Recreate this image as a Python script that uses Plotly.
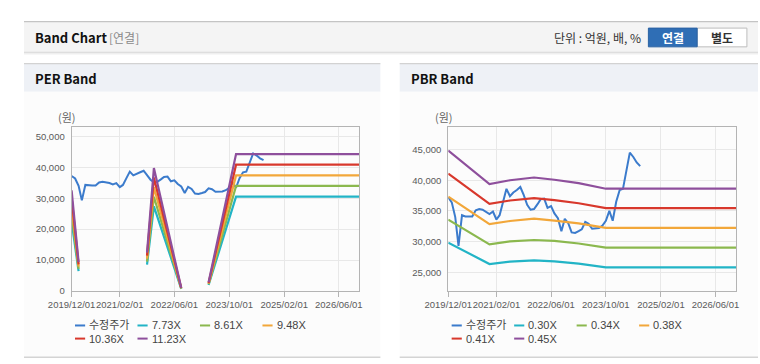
import plotly.graph_objects as go
import pandas as pd

W, H = 760, 364

# ---------------- data ----------------
stock_name = "수정주가"
stock_dates = pd.date_range("2019-12-01", "2024-08-01", freq="MS").strftime("%Y-%m-%d").tolist()
stock_price = [37200, 36400, 34000, 29300, 34300, 34100, 34100, 34100, 35100, 35300,
               35200, 34900, 34500, 34900, 33600, 34300, 36500, 38600, 37400, 38000,
               38400, 38900, 37600, 36000, 35200, 35300, 36100, 36900, 37000, 35500,
               35800, 34600, 33800, 31700, 33700, 33000, 31500, 31400, 31700, 32000,
               33200, 32900, 32100, 32100, 32200, 32600, 33400, 35000, 33400, 36500,
               38400, 38600, 41500, 44500, 43800, 42900, 42300]

per_labels = ["7.73X", "8.61X", "9.48X", "10.36X", "11.23X"]
per_dates = ["2019-12-01", "2020-01-01", "2020-02-01", "2020-03-01", "2021-10-01",
             "2021-12-01", "2022-08-01", "2022-09-01", "2023-04-01", "2023-12-01", "2026-12-01"]
per_773 = [22420, 14690, 6420, None, 8540, 27360, 700, None, 1930, 30500, 30500]
per_861 = [24970, 16360, 7150, None, 9510, 30480, 780, None, 2150, 33970, 33970]
per_948 = [27490, 18010, 7870, None, 10480, 33560, 850, None, 2370, 37400, 37400]
per_1036 = [30040, 19680, 8600, None, 11450, 36670, 930, None, 2590, 40870, 40870]
per_1123 = [32570, 21340, 9320, None, 12410, 39750, 1010, None, 2810, 44300, 44300]
per_bands = [per_773, per_861, per_948, per_1036, per_1123]

pbr_labels = ["0.30X", "0.34X", "0.38X", "0.41X", "0.45X"]
pbr_dates = ["2019-12-01", "2020-12-01", "2021-06-01", "2022-01-01", "2022-07-01",
             "2023-02-01", "2023-10-01", "2026-12-01"]
pbr_030 = [29830, 26340, 26720, 26930, 26770, 26400, 25800, 25800]
pbr_034 = [33580, 29550, 30040, 30260, 30100, 29690, 29020, 29020]
pbr_038 = [37340, 32840, 33360, 33740, 33430, 32970, 32240, 32240]
pbr_041 = [41090, 36150, 36700, 37070, 36760, 36250, 35460, 35460]
pbr_045 = [44850, 39370, 40000, 40450, 40080, 39530, 38620, 38620]
pbr_bands = [pbr_030, pbr_034, pbr_038, pbr_041, pbr_045]

x_tickvals = ["2019-12-01", "2021-02-01", "2022-06-01", "2023-10-01", "2025-02-01", "2026-06-01"]
x_ticktext = ["2019/12/01", "2021/02/01", "2022/06/01", "2023/10/01", "2025/02/01", "2026/06/01"]
x_range = ["2019-12-01", "2026-12-01"]
per_yticks = [0, 10000, 20000, 30000, 40000, 50000]
pbr_yticks = [25000, 30000, 35000, 40000, 45000]

stock_color = "#3b7bcc"
band_colors = ["#22b4c6", "#8bb84e", "#f2a73a", "#d8382c", "#8e4f9c"]

# ---------------- helpers ----------------
def X(px):
    return px / W

def Y(py):
    return 1 - py / H

FONT_TXT = "Liberation Sans, Arial, Noto Sans CJK KR, sans-serif"
FONT_KR = "Noto Sans CJK KR, Liberation Sans, sans-serif"

L_DOM = [X(49.3), X(347.3)]
R_DOM = [X(439.3), X(737.3)]
Y_DOM = [Y(295), Y(128.3)]

fig = go.Figure()

# PER chart
fig.add_trace(go.Scatter(x=stock_dates, y=stock_price, mode="lines", name=stock_name,
                         line=dict(color=stock_color, width=2), xaxis="x", yaxis="y",
                         showlegend=False))
for lab, vals, col in zip(per_labels, per_bands, band_colors):
    fig.add_trace(go.Scatter(x=per_dates, y=vals, mode="lines", name=lab,
                             line=dict(color=col, width=2.2), xaxis="x", yaxis="y",
                             connectgaps=False, showlegend=False))
# PBR chart
fig.add_trace(go.Scatter(x=stock_dates, y=stock_price, mode="lines", name=stock_name,
                         line=dict(color=stock_color, width=2), xaxis="x2", yaxis="y2",
                         showlegend=False))
for lab, vals, col in zip(pbr_labels, pbr_bands, band_colors):
    fig.add_trace(go.Scatter(x=pbr_dates, y=vals, mode="lines", name=lab,
                             line=dict(color=col, width=2.2), xaxis="x2", yaxis="y2",
                             showlegend=False))

axis_common = dict(showline=True, linecolor="#b4b4b4", linewidth=1, mirror=True,
                   showgrid=True, gridcolor="#e8e8e8", gridwidth=1, zeroline=False,
                   tickfont=dict(family=FONT_TXT, size=9.5, color="#5a5a5a"))

xcommon = dict(axis_common, type="date", range=x_range, tickmode="array",
               tickvals=x_tickvals, ticktext=x_ticktext, ticks="outside",
               ticklen=5, tickcolor="#b4b4b4", tickangle=0)

fig.update_layout(
    width=W, height=H, margin=dict(l=0, r=0, t=0, b=0),
    paper_bgcolor="#ffffff", plot_bgcolor="#ffffff",
    showlegend=False,
    xaxis=dict(xcommon, domain=L_DOM, anchor="y"),
    yaxis=dict(axis_common, domain=Y_DOM, anchor="x", range=[0, 53200],
               tickmode="array", tickvals=per_yticks, tickformat=",", ticks="",
               ticklabelstandoff=4),
    xaxis2=dict(xcommon, domain=R_DOM, anchor="y2"),
    yaxis2=dict(axis_common, domain=Y_DOM, anchor="x2", range=[21950, 48760],
                tickmode="array", tickvals=pbr_yticks, tickformat=",", ticks="",
                ticklabelstandoff=4),
)

shapes = []
ann = []

# page header bar
shapes.append(dict(type="rect", xref="paper", yref="paper", x0=0, x1=1, y0=Y(52), y1=Y(22),
                   fillcolor="#f4f4f4", line=dict(width=0), layer="below"))
shapes.append(dict(type="line", xref="paper", yref="paper", x0=0, x1=1, y0=Y(22), y1=Y(22),
                   line=dict(color="#c4c4c4", width=1.2)))
shapes.append(dict(type="line", xref="paper", yref="paper", x0=0, x1=1, y0=Y(53), y1=Y(53),
                   line=dict(color="#dedede", width=1.5)))
shapes.append(dict(type="line", xref="paper", yref="paper", x0=0, x1=1, y0=Y(54.5), y1=Y(54.5),
                   line=dict(color="#efefef", width=1.5)))
ann.append(dict(text="<b>Band Chart</b>", x=X(9), y=Y(38), xref="paper", yref="paper",
                xanchor="left", yanchor="middle", showarrow=False,
                font=dict(family=FONT_KR, size=13, color="#111111")))
ann.append(dict(text="[연결]", x=X(86), y=Y(38.5), xref="paper", yref="paper",
                xanchor="left", yanchor="middle", showarrow=False,
                font=dict(family=FONT_KR, size=12, color="#8a8a8a")))
ann.append(dict(text="단위 : 억원, 배, %", x=X(641), y=Y(38.5), xref="paper", yref="paper",
                xanchor="right", yanchor="middle", showarrow=False,
                font=dict(family=FONT_KR, size=12, color="#333333")))
# buttons
shapes.append(dict(type="rect", xref="paper", yref="paper", x0=X(697), x1=X(748.5),
                   y0=Y(47.5), y1=Y(28.5), fillcolor="#ffffff",
                   line=dict(color="#bdbdbd", width=1)))
shapes.append(dict(type="rect", xref="paper", yref="paper", x0=X(646.5), x1=X(697),
                   y0=Y(47.5), y1=Y(28.5), fillcolor="#2f6eb5",
                   line=dict(color="#2a62a3", width=1)))
ann.append(dict(text="<b>연결</b>", x=X(671.7), y=Y(38.5), xref="paper", yref="paper",
                xanchor="center", yanchor="middle", showarrow=False,
                font=dict(family=FONT_KR, size=12, color="#ffffff")))
ann.append(dict(text="<b>별도</b>", x=X(722.7), y=Y(38.5), xref="paper", yref="paper",
                xanchor="center", yanchor="middle", showarrow=False,
                font=dict(family=FONT_KR, size=12, color="#333333")))

# panels
panels = [(0, 369, "PER Band"), (389, 760, "PBR Band")]
for x0, x1, title in panels:
    shapes.append(dict(type="rect", xref="paper", yref="paper", x0=X(x0), x1=X(x1),
                       y0=Y(93), y1=Y(64.5), fillcolor="#eef1f6", line=dict(width=0),
                       layer="below"))
    shapes.append(dict(type="line", xref="paper", yref="paper", x0=X(x0), x1=X(x1),
                       y0=Y(64.5), y1=Y(64.5), line=dict(color="#d2d2d2", width=1.2)))
    shapes.append(dict(type="rect", xref="paper", yref="paper", x0=X(x0), x1=X(x1),
                       y0=Y(362), y1=Y(93), fillcolor="#fcfcfc", line=dict(width=0),
                       layer="below"))
    shapes.append(dict(type="line", xref="paper", yref="paper", x0=X(x0), x1=X(x1),
                       y0=Y(362.3), y1=Y(362.3), line=dict(color="#d4d4d4", width=1.5)))
    ann.append(dict(text="<b>" + title + "</b>", x=X(x0 + 9.5), y=Y(80), xref="paper",
                    yref="paper", xanchor="left", yanchor="middle", showarrow=False,
                    font=dict(family=FONT_KR, size=13, color="#111111")))

# unit labels
for px in (33, 423):
    ann.append(dict(text="(원)", x=X(px), y=Y(118.5), xref="paper", yref="paper",
                    xanchor="left", yanchor="middle", showarrow=False,
                    font=dict(family=FONT_KR, size=11, color="#666666")))

# manual legends
def add_legend(plot_left, labels):
    names = [stock_name] + labels
    cols = [stock_color] + band_colors
    for i, (nm, c) in enumerate(zip(names, cols)):
        row, colidx = divmod(i, 4)
        lx = plot_left + 3.5 + colidx * 64.7
        ly = 330 + row * 13.3
        shapes.append(dict(type="line", xref="paper", yref="paper", x0=X(lx), x1=X(lx + 10.5),
                           y0=Y(ly), y1=Y(ly), line=dict(color=c, width=2)))
        ann.append(dict(text=nm, x=X(lx + 12.5), y=Y(ly), xref="paper", yref="paper",
                        xanchor="left", yanchor="middle", showarrow=False,
                        font=dict(family=FONT_TXT, size=11, color="#444444")))

add_legend(49.3, per_labels)
add_legend(439.3, pbr_labels)

fig.update_layout(shapes=shapes, annotations=ann)

post = (
    "document.documentElement.style.margin='0';"
    "document.body.style.margin='0';document.body.style.padding='0';"
    "document.body.style.overflow='hidden';"
)

fig.write_html("out.html", config={"displayModeBar": False}, post_script=post)
